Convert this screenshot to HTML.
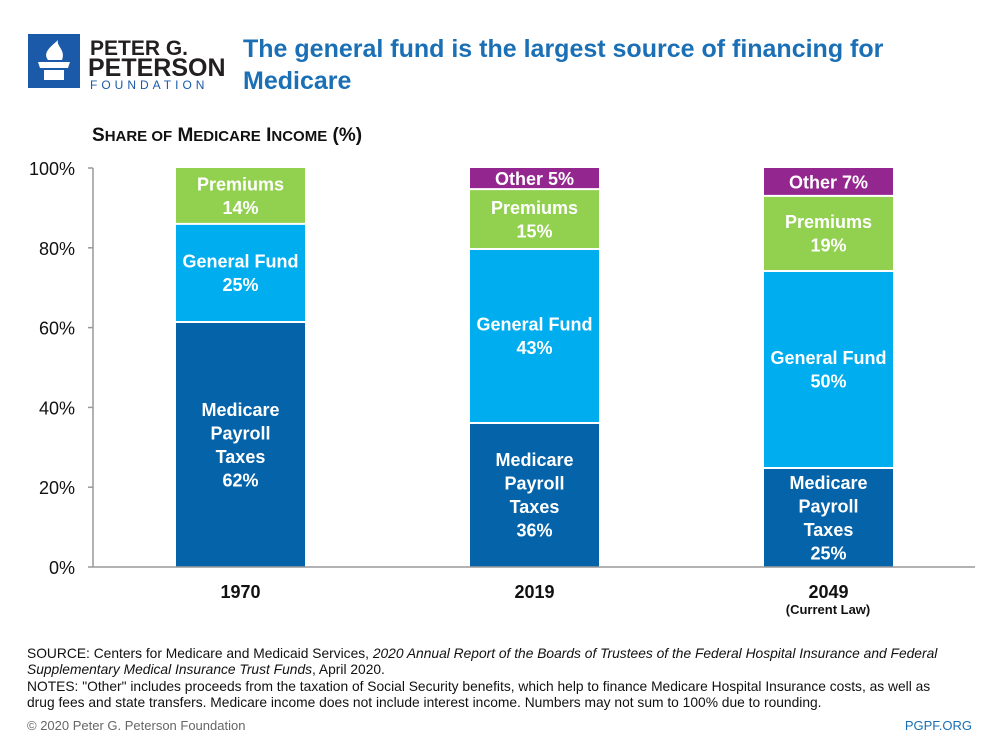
<!DOCTYPE html>
<html><head><meta charset="utf-8"><style>
body{margin:0;background:#fff;font-family:"Liberation Sans",sans-serif}
#root{position:relative;width:1000px;height:750px;overflow:hidden}
</style></head><body>
<div id="root">
<svg width="1000" height="750" style="position:absolute;left:0;top:0">
<g>
<rect x="28" y="34" width="52" height="54" fill="#1a5aa8"/>
<path d="M38 62 h32 l-2 6 h-28 z M44 70 h20 v10 h-20z" fill="#fff"/>
<path d="M48 60 c-6 -8 4 -14 10 -20 c-2 6 8 10 4 20z" fill="#fff"/>
<text x="90" y="55" font-size="21" font-weight="bold" fill="#231f20">PETER G.</text>
<text x="88" y="76" font-size="25" font-weight="bold" fill="#231f20">PETERSON</text>
<text x="90" y="89" font-size="12" fill="#1a5aa8" letter-spacing="4">FOUNDATION</text>
</g>
<text x="243" y="57" font-size="25" font-weight="bold" fill="#1a6fb5">The general fund is the largest source of financing for</text>
<text x="243" y="89" font-size="25" font-weight="bold" fill="#1a6fb5">Medicare</text>
<text x="92" y="141" font-size="19" fill="#111" font-weight="bold">S<tspan font-size="15">HARE OF</tspan> M<tspan font-size="15">EDICARE</tspan> I<tspan font-size="15">NCOME</tspan> (%)</text>
<g id="axes"></g>
<g id="bars"></g>
<text x="828" y="614" font-size="13" font-weight="bold" text-anchor="middle" fill="#111">(Current Law)</text>
<g font-size="13.8" fill="#111">
<text x="27" y="658">SOURCE: Centers for Medicare and Medicaid Services, <tspan font-style="italic">2020 Annual Report of the Boards of Trustees of the Federal Hospital Insurance and Federal</tspan></text>
<text x="27" y="674" font-style="italic">Supplementary Medical Insurance Trust Funds<tspan font-style="normal">, April 2020.</tspan></text>
<text x="27" y="691">NOTES: "Other" includes proceeds from the taxation of Social Security benefits, which help to finance Medicare Hospital Insurance costs, as well as</text>
<text x="27" y="707">drug fees and state transfers. Medicare income does not include interest income. Numbers may not sum to 100% due to rounding.</text>
</g>
<text x="27" y="730" font-size="13" fill="#666">© 2020 Peter G. Peterson Foundation</text>
<text x="972" y="730" font-size="13" fill="#1a6fb5" text-anchor="end">PGPF.ORG</text>
</svg>
</div>
<script>
const categories=["1970","2019","2049"];
const payroll=[61.4,36.1,24.8];
const generalFund=[24.6,43.6,49.4];
const premiums=[14,15,18.8];
const other=[0,5.3,7];
const payrollLabels=["62%","36%","25%"];
const gfLabels=["25%","43%","50%"];
const premLabels=["14%","15%","19%"];
const otherLabels=["","5%","7%"];
const yTicks=[0,20,40,60,80,100];
const NS="http://www.w3.org/2000/svg";
const y0=567,y100=168,x0=93;
const y=v=>y0-(y0-y100)*v/100;
const xc=i=>240.5+i*294;
const bw=129;
function mk(t,a,p){const e=document.createElementNS(NS,t);for(const k in a)e.setAttribute(k,a[k]);p.appendChild(e);return e;}
const ax=document.getElementById('axes'),bg=document.getElementById('bars');
categories.forEach((c,i)=>{
 let cum=0;
 series().forEach(s=>{
  const v=s.v[i]; if(v<=0)return;
  const top=y(cum+v),bot=y(cum);
  const r=mk('rect',{x:xc(i)-bw/2,y:top,width:bw,height:bot-top,fill:s.c},bg);
  
  
  if(cum>0){
   const sep=mk('line',{x1:xc(i)-bw/2,x2:xc(i)+bw/2,y1:bot,y2:bot,stroke:'#fff','stroke-width':2},bg);
   
   
  }
  const lines=s.lab(i),mid=(top+bot)/2,lh=23.5;
  lines.forEach((l,k)=>{
   const t=mk('text',{x:xc(i),y:mid+(k-(lines.length-1)/2)*lh+6.5,'font-size':18,'font-weight':'bold','text-anchor':'middle',fill:'#fff'},bg);
   t.textContent=l;
   
   
  });
  cum+=v;
 });
 const xlb=mk('text',{x:xc(i),y:598,'font-size':18,'font-weight':'bold','text-anchor':'middle',fill:'#111'},bg);
 xlb.textContent=c;
 
 
});
function series(){return [
 {v:payroll,c:'#0563aa',n:'payroll',lab:i=>['Medicare','Payroll','Taxes',payrollLabels[i]]},
 {v:generalFund,c:'#00adee',n:'general-fund',lab:i=>['General Fund',gfLabels[i]]},
 {v:premiums,c:'#92d050',n:'premiums',lab:i=>['Premiums',premLabels[i]]},
 {v:other,c:'#93278f',n:'other',lab:i=>['Other '+otherLabels[i]]}];}
const yl=mk('line',{x1:x0,x2:x0,y1:y100,y2:y0,stroke:'#999','stroke-width':1.5},ax);


const xl=mk('line',{x1:x0,x2:975,y1:y0,y2:y0,stroke:'#999','stroke-width':1.5},bg);


yTicks.forEach(t=>{
 const tk=mk('line',{x1:x0-5,x2:x0,y1:y(t),y2:y(t),stroke:'#999','stroke-width':1.5},ax);
 
 
 const lb=mk('text',{x:75,y:y(t)+7,'font-size':18,'text-anchor':'end',fill:'#111'},ax);
 lb.textContent=t+'%';
 
 
});
</script>
</body></html>
